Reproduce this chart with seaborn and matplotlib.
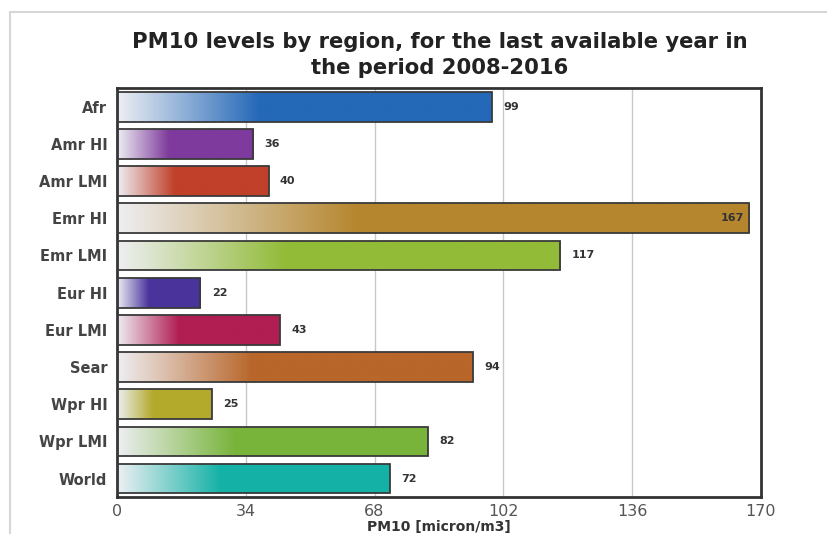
import matplotlib
matplotlib.use("Agg")
import matplotlib.pyplot as plt
import matplotlib.colors as mcolors
from matplotlib.patches import Rectangle
import seaborn as sns
import pandas as pd
import numpy as np


# data
regions = ["Afr", "Amr HI", "Amr LMI", "Emr HI", "Emr LMI", "Eur HI",
           "Eur LMI", "Sear", "Wpr HI", "Wpr LMI", "World"]
pm10 = [99, 36, 40, 167, 117, 22, 43, 94, 25, 82, 72]
bar_colors = ["#2468b8", "#7e3a9c", "#c0402a", "#b5862e", "#92bb38", "#4a349c",
              "#b01e52", "#b8662a", "#b3aa2c", "#78b43a", "#14b2a6"]
xticks = [0, 34, 68, 102, 136, 170]

df = pd.DataFrame({"region": regions, "pm10": pm10})

sns.set_style("white")
plt.rcParams["font.family"] = ["DejaVu Sans"]

fig = plt.figure(figsize=(8.27, 5.34), dpi=100)
ax = fig.add_axes([0.1415, 0.069, 0.7785, 0.766])

sns.barplot(data=df, x="pm10", y="region", hue="region", palette=bar_colors,
            order=regions, hue_order=regions, legend=False, width=0.8, ax=ax)

# light -> colour gradient over the left part of each bar
start = np.array(mcolors.to_rgb("#eeeff3"))
for patch in list(ax.patches):
    x0, y0 = patch.get_x(), patch.get_y()
    w, h = patch.get_width(), patch.get_height()
    idx = int(round(y0 + h / 2))
    col = np.array(mcolors.to_rgb(bar_colors[idx]))
    t = np.clip(np.linspace(0, 1, 300) / 0.38, 0, 1)[:, None]
    grad = (start * (1 - t) + col * t)[None, :, :]
    im = ax.imshow(grad, extent=[x0, x0 + w, y0 + h, y0], aspect="auto",
                   interpolation="bilinear", zorder=2)
    im.set_clip_path(patch)
    patch.set_facecolor("none")
    patch.set_edgecolor("#3a3a3a")
    patch.set_linewidth(1.3)
    patch.set_zorder(3)

    if w > 160:
        ax.text(x0 + w - 1.5, idx, f"{pm10[idx]}", ha="right", va="center",
                fontsize=8, fontweight="bold", color="#333333", zorder=4)
    else:
        ax.text(x0 + w + 3, idx, f"{pm10[idx]}", ha="left", va="center",
                fontsize=8, fontweight="bold", color="#333333", zorder=4)

ax.set_xlim(0, 170)
ax.set_ylim(len(regions) - 0.5, -0.5)
ax.set_xticks(xticks)
ax.set_xticklabels([str(v) for v in xticks], fontsize=11.5, color="#555555")
ax.tick_params(axis="y", labelsize=10.5, labelcolor="#444444", length=0, pad=7)
ax.tick_params(axis="x", length=0, pad=5)
for lbl in ax.get_yticklabels():
    lbl.set_fontweight("semibold")

for v in xticks[1:-1]:
    ax.axvline(v, color="#c9c9c9", lw=1, zorder=1)

for s in ax.spines.values():
    s.set_visible(True)
    s.set_color("#333333")
    s.set_linewidth(2)

ax.set_ylabel("")
ax.set_xlabel("PM10 [micron/m3]", fontsize=10, fontweight="bold",
              color="#333333", labelpad=1)

fig.suptitle("PM10 levels by region, for the last available year in\nthe period 2008-2016",
             x=0.532, y=0.94, fontsize=15.2, fontweight="bold", color="#222222",
             linespacing=1.35)

# faint frame around the whole image
fig.add_artist(Rectangle((0.012, -0.05), 1.2, 1.028, transform=fig.transFigure,
                         fill=False, edgecolor="#d6d6d6", lw=1.5))

fig.savefig("out.png", dpi=100)
